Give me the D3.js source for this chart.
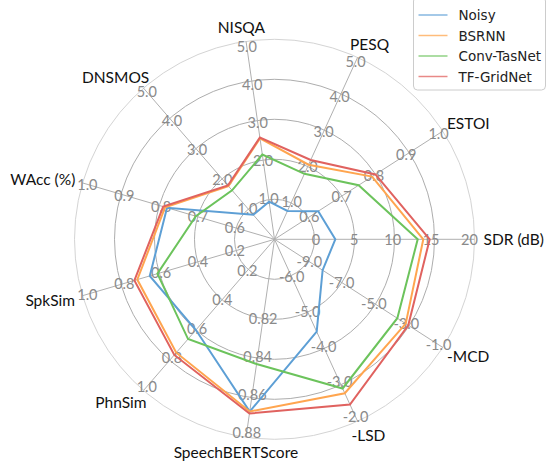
<!DOCTYPE html>
<html>
<head>
<meta charset="utf-8">
<script src="https://cdn.jsdelivr.net/npm/d3@7"></script>
<style>
  body { margin: 0; background: #fff; }
  svg { display: block; }
</style>
</head>
<body>
<div id="chart"></div>
<script>
// axes go counter-clockwise starting from the right (east)
const axisNames = ["SDR (dB)", "ESTOI", "PESQ", "NISQA", "DNSMOS", "WAcc (%)", "SpkSim", "PhnSim", "SpeechBERTScore", "-LSD", "-MCD"];
const axisMin = [-5, 0.5, 0, 0, 0, 0.5, 0, 0, 0.78, -7, -11];
const axisMax = [20, 1.0, 5, 5, 5, 1.0, 1, 1, 0.88, -2, -1];
const tickLabels = [
  ["0", "5", "10", "15", "20"],
  ["0.6", "0.7", "0.8", "0.9", "1.0"],
  ["1.0", "2.0", "3.0", "4.0", "5.0"],
  ["1.0", "2.0", "3.0", "4.0", "5.0"],
  ["1.0", "2.0", "3.0", "4.0", "5.0"],
  ["0.6", "0.7", "0.8", "0.9", "1.0"],
  ["0.2", "0.4", "0.6", "0.8", "1.0"],
  ["0.2", "0.4", "0.6", "0.8", "1.0"],
  ["", "0.82", "0.84", "0.86", "0.88"],
  ["-6.0", "-5.0", "-4.0", "-3.0", "-2.0"],
  ["-9.0", "-7.0", "-5.0", "-3.0", "-1.0"]
];

const seriesNames = ["Noisy", "BSRNN", "Conv-TasNet", "TF-GridNet"];
const seriesColors = ["#5d9fd5", "#ffa54f", "#6cc35c", "#e0625f"];
const noisy = [2.6, 0.63, 0.78, 0.95, 0.81, 0.78, 0.65, 0.6, 0.867, -4.46, -8.14];
const bsrnn = [13.6, 0.79, 2.05, 2.55, 1.76, 0.785, 0.715, 0.75, 0.867, -2.77, -3.2];
const convTasNet = [12.9, 0.75, 1.8, 2.14, 1.62, 0.705, 0.61, 0.66, 0.843, -2.9, -3.7];
const tfGridNet = [14.4, 0.80, 2.18, 2.57, 1.78, 0.79, 0.73, 0.765, 0.868, -2.46, -3.05];
const seriesValues = [noisy, bsrnn, convTasNet, tfGridNet];

const width = 547;
const height = 466;
const cx = 274.5;
const cy = 239.3;
const radius = 200;
const levels = [0.2, 0.4, 0.6, 0.8, 1.0];

const svg = d3.select("#chart")
  .append("svg")
  .attr("width", width)
  .attr("height", height);

const g = svg.append("g").attr("transform", `translate(${cx}, ${cy})`);

const theta = d3.scaleLinear().domain([0, axisNames.length]).range([0, 2 * Math.PI]);
const axisScales = axisNames.map((_, i) => d3.scaleLinear().domain([axisMin[i], axisMax[i]]).range([0, radius]));
const px = (i, r) => r * Math.cos(theta(i));
const py = (i, r) => -r * Math.sin(theta(i));

// grid circles
g.selectAll("circle.grid")
  .data(levels)
  .join("circle")
  .attr("class", "grid")
  .attr("r", d => d * radius)
  .attr("fill", "none")
  .attr("stroke", d => d === 1 ? "#d4d4d4" : "#adadad")
  .attr("stroke-width", 1);

// spokes
g.selectAll("line.spoke")
  .data(axisNames)
  .join("line")
  .attr("class", "spoke")
  .attr("x1", 0)
  .attr("y1", 0)
  .attr("x2", (d, i) => px(i, radius))
  .attr("y2", (d, i) => py(i, radius))
  .attr("stroke", "#b0b0b0")
  .attr("stroke-width", 1);

// tick labels along each spoke
const tickData = axisNames.flatMap((_, i) => tickLabels[i].map((t, k) => ({ i, k, t })));
g.selectAll("text.tick")
  .data(tickData.filter(d => d.t !== ""))
  .join("text")
  .attr("class", "tick")
  .attr("x", d => px(d.i, levels[d.k] * radius * 0.96 + 3))
  .attr("y", d => py(d.i, levels[d.k] * radius * 0.96 + 3))
  .attr("text-anchor", "middle")
  .attr("dominant-baseline", "central")
  .attr("font-family", "Lato, 'Open Sans', sans-serif")
  .attr("font-size", 14.5)
  .attr("fill", "#8a8a8a")
  .text(d => d.t);

// axis labels: spoke end, then shifted sideways by half their width
g.selectAll("text.axis-label")
  .data(axisNames)
  .join("text")
  .attr("class", "axis-label")
  .attr("text-anchor", "middle")
  .attr("dominant-baseline", "central")
  .attr("font-family", "Lato, 'Open Sans', sans-serif")
  .attr("font-size", 15.5)
  .attr("fill", "#111")
  .text(d => d)
  .each(function (d, i) {
    const box = this.getBBox();
    const c = Math.cos(theta(i));
    const s = Math.sin(theta(i));
    d3.select(this)
      .attr("x", px(i, 209) + c * box.width / 2)
      .attr("y", py(i, 209) - s * 6);
  });

// series lines
const radial = d3.lineRadial()
  .angle((d, i) => Math.PI / 2 - theta(i))
  .radius((d, i) => axisScales[i](d))
  .curve(d3.curveLinearClosed);

g.selectAll("path.series")
  .data(seriesValues)
  .join("path")
  .attr("class", "series")
  .attr("d", d => radial(d))
  .attr("fill", "none")
  .attr("stroke", (d, i) => seriesColors[i])
  .attr("stroke-width", 2)
  .attr("stroke-linejoin", "miter");

// legend
const legend = svg.append("g").attr("transform", "translate(413.5, -3)");
legend.append("rect")
  .attr("width", 132)
  .attr("height", 93)
  .attr("rx", 4)
  .attr("fill", "#fff")
  .attr("fill-opacity", 0.85)
  .attr("stroke", "#cccccc");

const items = legend.selectAll("g.item")
  .data(seriesNames)
  .join("g")
  .attr("class", "item")
  .attr("transform", (d, i) => `translate(0, ${18 + i * 20.5})`);

items.append("line")
  .attr("x1", 5)
  .attr("x2", 34)
  .attr("stroke", (d, i) => seriesColors[i])
  .attr("stroke-opacity", 0.75)
  .attr("stroke-width", 1.5);

items.append("text")
  .attr("x", 45)
  .attr("dominant-baseline", "central")
  .attr("font-family", "'DejaVu Sans', sans-serif")
  .attr("font-size", 13.5)
  .attr("fill", "#222")
  .text(d => d);
</script>
</body>
</html>
